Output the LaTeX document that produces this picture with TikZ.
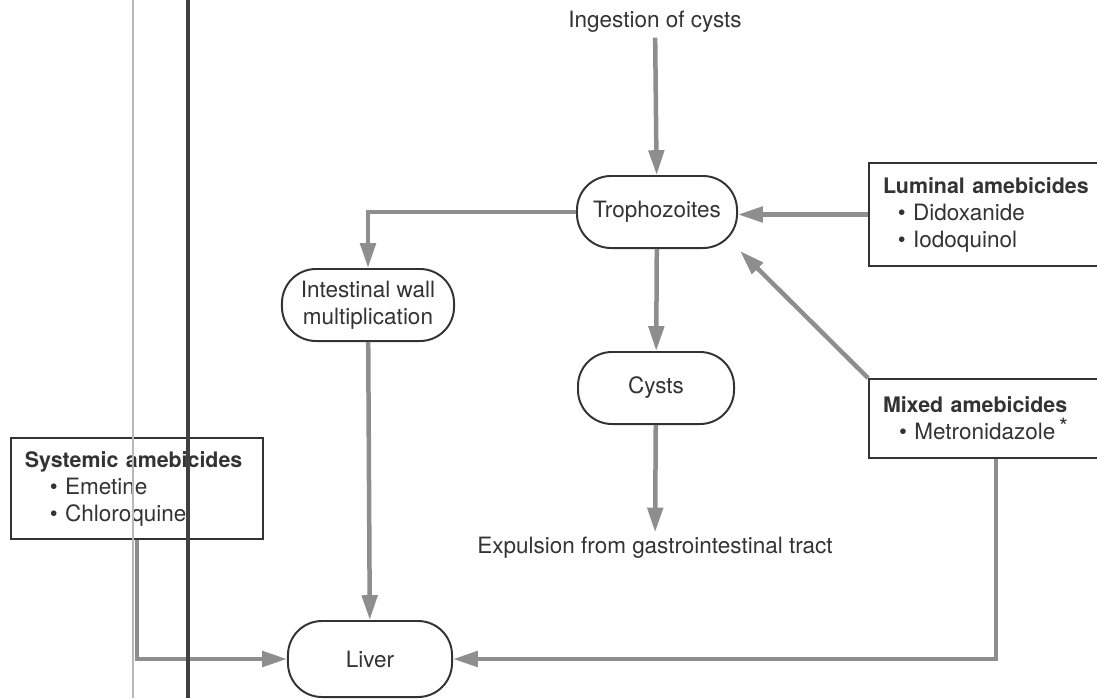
\documentclass[tikz,border=0pt]{standalone}
\usepackage{fontspec}
\setmainfont{TeX Gyre Heros}
\usepackage{xcolor}
\usepackage{tikz}
\usetikzlibrary{arrows.meta,positioning}
\definecolor{arrowgray}{HTML}{8E8E8E}
\definecolor{inkgray}{HTML}{333333}
\newcommand{\drugtitle}[1]{\mbox{\fontsize{15.2}{19.2}\selectfont\bfseries #1}}

\begin{document}
\begin{tikzpicture}[
  x=0.025cm, y=-0.025cm,
  font=\fontsize{16}{19.2}\selectfont, text=inkgray,
  stage/.style={draw=inkgray, line width=1.4pt, rounded corners=0.85cm, align=center, minimum width=4cm, minimum height=1.8cm, inner xsep=3pt, fill=white},
  drugbox/.style={draw=inkgray, line width=1.4pt, align=left, anchor=north west, inner xsep=0.35cm, fill=white},
  arr/.style={-{Triangle[length=0.62cm, width=0.38cm]}, draw=arrowgray, line width=3.2pt},
  plain/.style={align=center}
]
  \useasboundingbox (0,0) rectangle (1097,698);
  \clip (0,0) rectangle (1097,698);

  % life cycle
  \node[plain] (ingest) at (655,22) {Ingestion of cysts};
  \node[stage] (troph) at (657,212) {Trophozoites};
  \node[stage, minimum width=4.3cm] (wall) at (368,305) {Intestinal wall\\multiplication};
  \node[stage, minimum width=3.9cm] (cysts) at (656,388) {Cysts};
  \node[plain] (expul) at (655,548) {Expulsion from gastrointestinal tract};
  \node[stage, minimum width=4.1cm, minimum height=1.9cm] (liver) at (370,659) {Liver};

  % drug boxes
  \node[drugbox, text width=5.65cm, minimum height=2.575cm] (luminal) at (868,162)
    {\drugtitle{Luminal amebicides}\\
     \hspace*{0.37cm}\textbullet\ Didoxanide\\
     \hspace*{0.37cm}\textbullet\ Iodoquinol};
  \node[drugbox, text width=5.65cm, minimum height=1.975cm] (mixed) at (868,378)
    {\drugtitle{Mixed amebicides}\\
     \hspace*{0.4cm}\textbullet\ Metronidazole\,\raisebox{0.45ex}{*}};
  \node[drugbox, text width=5.6cm, minimum height=2.525cm] (systemic) at (10,437)
    {\drugtitle{Systemic amebicides}\\
     \hspace*{0.62cm}\textbullet\ Emetine\\
     \hspace*{0.62cm}\textbullet\ Chloroquine};

  % connectors
  \draw[arr] (ingest) -- (troph);
  \draw[arr] (luminal.west) -- (luminal.west -| troph.east);
  \draw[arr] (troph.west) -| (wall.north);
  \draw[arr] (troph) -- (cysts);
  \draw[arr] (cysts) -- (expul);
  \draw[arr] (wall) -- (liver);
  \draw[arr, shorten >=2pt] (mixed.north west) -- (troph.south east);
  \draw[arr] (systemic.south) |- (liver.west);
  \draw[arr] (mixed.south) |- (liver.east);

  % page edge lines
  \draw[gray!55, line width=0.8pt] (133,0) -- (133,698);
  \draw[black!75, line width=2.2pt] (188,0) -- (188,698);
\end{tikzpicture}
\end{document}
